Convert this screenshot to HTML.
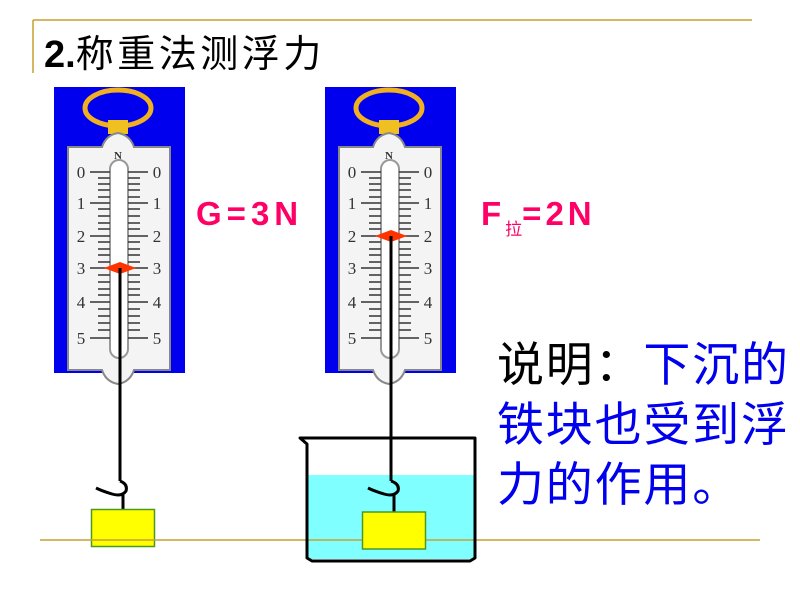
<!DOCTYPE html>
<html><head><meta charset="utf-8"><style>
html,body{margin:0;padding:0;background:#fff;}
#w{position:relative;width:800px;height:600px;overflow:hidden;}
svg{position:absolute;left:0;top:0;}
.t{position:absolute;font-family:"Liberation Sans","Noto Sans CJK SC",sans-serif;white-space:nowrap;}
</style></head><body><div id="w">
<svg width="800" height="600" viewBox="0 0 800 600">
<line x1="33" y1="20" x2="752" y2="20" stroke="#c8a030" stroke-width="1.5"/>
<line x1="33" y1="20" x2="33" y2="73" stroke="#c8a030" stroke-width="1.5"/>
<!-- scale 1 -->
<g transform="translate(54,87)">
<rect x="0" y="0" width="131" height="286" fill="#0000ee"/>
<ellipse cx="64" cy="21" rx="33" ry="18" fill="none" stroke="#f0b020" stroke-width="5"/>
<rect x="54" y="33" width="20" height="14" fill="#f0c020"/>
<path d="M14 60 H48 Q52 48 64 46 Q76 48 80 60 H116 V283 H80 Q76 295 64 297 Q52 295 48 283 H14 Z" fill="#f4f4f4" stroke="#888" stroke-width="2"/>
<rect x="56" y="73" width="18" height="198" rx="9" fill="#fff" stroke="#999" stroke-width="2"/>
<g stroke="#333" stroke-width="1.5">
<path d="M36 85h20M74 85h20M36 116h20M74 116h20M36 149h20M74 149h20M36 181h20M74 181h20M36 215h20M74 215h20M36 251h20M74 251h20"/>
<path d="M44 91h12M74 91h12M44 97h12M74 97h12M44 103h12M74 103h12M44 110h12M74 110h12M44 122h12M74 122h12M44 129h12M74 129h12M44 136h12M74 136h12M44 142h12M74 142h12M44 155h12M74 155h12M44 162h12M74 162h12M44 168h12M74 168h12M44 175h12M74 175h12M44 188h12M74 188h12M44 195h12M74 195h12M44 202h12M74 202h12M44 208h12M74 208h12M44 222h12M74 222h12M44 229h12M74 229h12M44 236h12M74 236h12M44 243h12M74 243h12"/>
</g>
<g font-family="Liberation Serif,serif" font-size="17" fill="#333" text-anchor="middle">
<text x="64" y="72" font-size="11" font-weight="bold">N</text>
<text x="27" y="91">0</text><text x="103" y="91">0</text>
<text x="27" y="122">1</text><text x="103" y="122">1</text>
<text x="27" y="155">2</text><text x="103" y="155">2</text>
<text x="27" y="187">3</text><text x="103" y="187">3</text>
<text x="27" y="221">4</text><text x="103" y="221">4</text>
<text x="27" y="257">5</text><text x="103" y="257">5</text>
</g>
<path d="M50 181 L66 175 L82 181 L66 187 Z" fill="#ff3300"/>
<line x1="66" y1="181" x2="66" y2="298" stroke="#000" stroke-width="3"/>
</g>
<line x1="120" y1="380" x2="120" y2="481" stroke="#000" stroke-width="3"/>
<path d="M120 481 Q128 484 126 491 Q122 497 112 494 Q102 491 96 488" fill="none" stroke="#000" stroke-width="3"/>
<line x1="123" y1="495" x2="123" y2="509" stroke="#000" stroke-width="3"/>
<rect x="91.5" y="509.5" width="63" height="37" fill="#ffff00" stroke="#4a9a20" stroke-width="1.5"/>
<!-- scale 2 -->
<g transform="translate(325,87)">
<rect x="0" y="0" width="131" height="286" fill="#0000ee"/>
<ellipse cx="64" cy="21" rx="33" ry="18" fill="none" stroke="#f0b020" stroke-width="5"/>
<rect x="54" y="33" width="20" height="14" fill="#f0c020"/>
<path d="M14 60 H48 Q52 48 64 46 Q76 48 80 60 H116 V283 H80 Q76 295 64 297 Q52 295 48 283 H14 Z" fill="#f4f4f4" stroke="#888" stroke-width="2"/>
<rect x="56" y="73" width="18" height="198" rx="9" fill="#fff" stroke="#999" stroke-width="2"/>
<g stroke="#333" stroke-width="1.5">
<path d="M36 85h20M74 85h20M36 116h20M74 116h20M36 149h20M74 149h20M36 181h20M74 181h20M36 215h20M74 215h20M36 251h20M74 251h20"/>
<path d="M44 91h12M74 91h12M44 97h12M74 97h12M44 103h12M74 103h12M44 110h12M74 110h12M44 122h12M74 122h12M44 129h12M74 129h12M44 136h12M74 136h12M44 142h12M74 142h12M44 155h12M74 155h12M44 162h12M74 162h12M44 168h12M74 168h12M44 175h12M74 175h12M44 188h12M74 188h12M44 195h12M74 195h12M44 202h12M74 202h12M44 208h12M74 208h12M44 222h12M74 222h12M44 229h12M74 229h12M44 236h12M74 236h12M44 243h12M74 243h12"/>
</g>
<g font-family="Liberation Serif,serif" font-size="17" fill="#333" text-anchor="middle">
<text x="64" y="72" font-size="11" font-weight="bold">N</text>
<text x="27" y="91">0</text><text x="103" y="91">0</text>
<text x="27" y="122">1</text><text x="103" y="122">1</text>
<text x="27" y="155">2</text><text x="103" y="155">2</text>
<text x="27" y="187">3</text><text x="103" y="187">3</text>
<text x="27" y="221">4</text><text x="103" y="221">4</text>
<text x="27" y="257">5</text><text x="103" y="257">5</text>
</g>
<path d="M50 149 L66 143 L82 149 L66 155 Z" fill="#ff3300"/>
<line x1="66" y1="149" x2="66" y2="298" stroke="#000" stroke-width="3"/>
</g>
<!-- beaker -->
<rect x="307" y="475" width="168" height="84" fill="#7fffff"/>
<line x1="40" y1="540" x2="760" y2="540" stroke="#c8a030" stroke-width="1.5"/>
<path d="M300 438 L307 444 V558 L312 561 H470 L475 558 V438 Z" fill="none" stroke="#000" stroke-width="3" stroke-linejoin="round"/>
<line x1="391" y1="380" x2="391" y2="481" stroke="#000" stroke-width="3"/>
<path d="M391 481 Q400 484 398 491 Q394 497 384 494 Q374 491 368 488" fill="none" stroke="#000" stroke-width="3"/>
<line x1="394" y1="495" x2="394" y2="512" stroke="#000" stroke-width="3"/>
<rect x="362.5" y="512" width="63" height="37" fill="#ffff00" stroke="#4a9a20" stroke-width="1.5"/>
</svg>
<div class="t" style="left:44px;top:23px;font-size:38px;color:#000;"><b>2.</b><span style="letter-spacing:3.5px">称重法测浮力</span></div>
<div class="t" style="left:196px;top:195px;font-size:33px;font-weight:bold;color:#ff0066;letter-spacing:5px;">G=3N</div>
<div class="t" style="left:481px;top:195px;font-size:33px;font-weight:bold;color:#ff0066;letter-spacing:4px;">F<span style="font-size:17px;font-weight:normal;position:relative;top:10px;letter-spacing:0">拉</span>=2N</div>
<div class="t" style="left:497px;top:335px;font-size:47px;line-height:60px;letter-spacing:1.8px;color:#0000ee;"><span style="color:#000">说明：</span>下沉的<br>铁块也受到浮<br>力的作用。</div>
</div></body></html>
